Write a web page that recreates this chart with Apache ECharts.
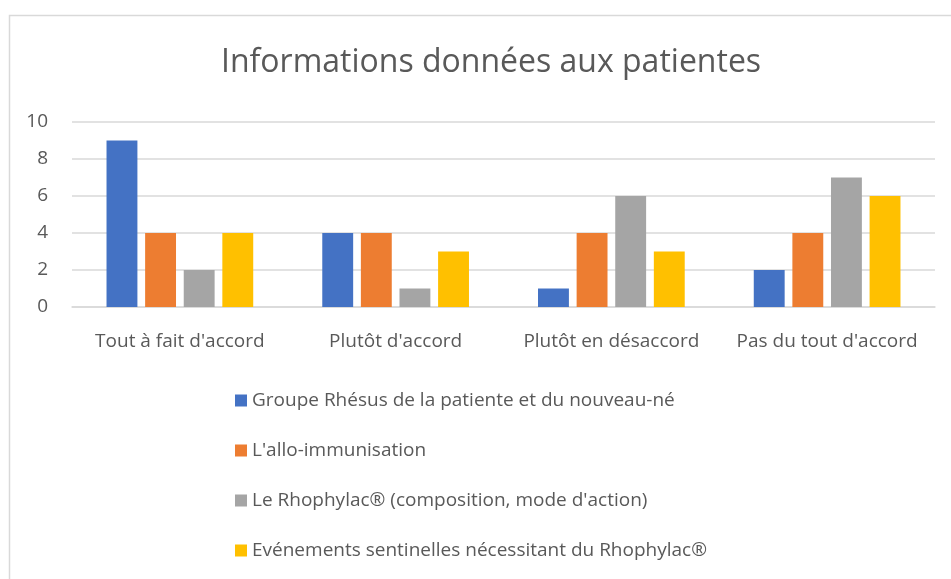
<!DOCTYPE html>
<html>
<head>
<meta charset="utf-8">
<script src="https://cdn.jsdelivr.net/npm/echarts@6/dist/echarts.min.js"></script>
<style>html,body{margin:0;padding:0;background:#fff;}#c{width:951px;height:579px;}</style>
</head>
<body>
<div id="c"></div>
<script>
const categories = ["Tout à fait d'accord", "Plutôt d'accord", "Plutôt en désaccord", "Pas du tout d'accord"];
const seriesNames = [
  "Groupe Rhésus de la patiente et du nouveau-né",
  "L'allo-immunisation",
  "Le Rhophylac® (composition, mode d'action)",
  "Evénements sentinelles nécessitant du Rhophylac® "
];
const groupeRhesus = [9, 4, 1, 2];
const alloImmunisation = [4, 4, 4, 4];
const rhophylac = [2, 1, 6, 7];
const evenements = [4, 3, 3, 6];
const yTicks = [0, 2, 4, 6, 8, 10];
const colors = ['#4472C4', '#ED7D31', '#A5A5A5', '#FFC000'];
const font = '"Open Sans", "Noto Sans", sans-serif';

const chart = echarts.init(document.getElementById('c'), null, {renderer: 'canvas'});
const dataSets = [groupeRhesus, alloImmunisation, rhophylac, evenements];
chart.setOption({
  animation: false,
  color: colors,
  textStyle: {fontFamily: font, color: '#595959'},
  graphic: [{
    type: 'rect', left: 7, top: 13,
    shape: {width: 960, height: 600},
    style: {fill: 'none', stroke: '#d9d9d9', lineWidth: 1.5},
    silent: true
  }],
  title: {
    text: 'Informations données aux patientes',
    left: 216, top: 42,
    textStyle: {fontFamily: font, fontSize: 32, fontWeight: 'normal', color: '#595959'}
  },
  grid: {left: 72, right: 16, top: 122, height: 185, containLabel: false},
  legend: {
    orient: 'vertical', left: 230, top: 386, itemGap: 31,
    itemWidth: 12, itemHeight: 12, icon: 'rect',
    textStyle: {fontFamily: font, fontSize: 19, color: '#595959'},
    data: seriesNames
  },
  xAxis: {
    type: 'category', data: categories,
    axisLine: {show: true, lineStyle: {color: '#d9d9d9', width: 1.5}},
    axisTick: {show: false},
    axisLabel: {fontFamily: font, fontSize: 19, color: '#595959', margin: 25, interval: 0}
  },
  yAxis: {
    type: 'value', min: yTicks[0], max: yTicks[yTicks.length - 1], interval: 2,
    axisLine: {show: false}, axisTick: {show: false},
    splitLine: {lineStyle: {color: '#d9d9d9', width: 1.5}},
    axisLabel: {fontFamily: font, fontSize: 19, color: '#595959', margin: 24}
  },
  series: seriesNames.map((n, i) => ({
    name: n, type: 'bar', data: dataSets[i],
    barGap: '25%', barCategoryGap: '32%'
  }))
});
</script>
</body>
</html>
